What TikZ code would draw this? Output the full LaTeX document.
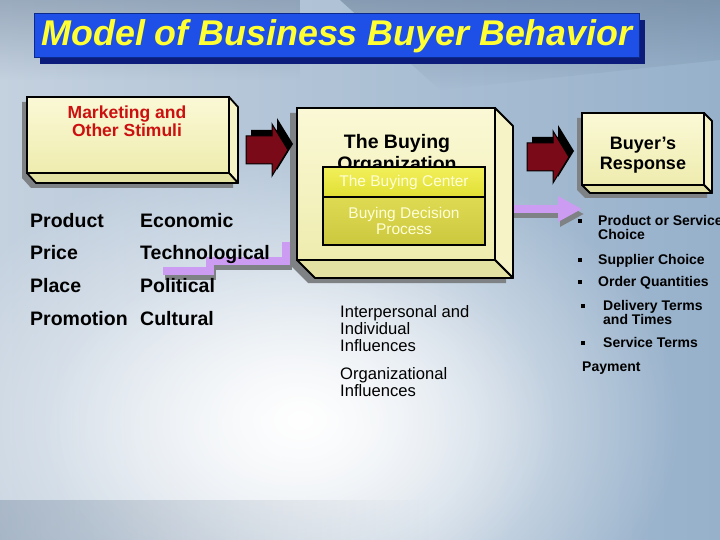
\documentclass[tikz,border=0pt]{standalone}
\usepackage{fontspec}
\setmainfont{Liberation Sans}
\usetikzlibrary{arrows.meta,backgrounds,shadows,fadings,calc}

\definecolor{titleblue}{HTML}{1E50E8}
\definecolor{titleedge}{HTML}{0A2A8C}
\definecolor{titleshade}{HTML}{0B1C7A}
\definecolor{titletext}{HTML}{FFFF33}
\definecolor{boxtop}{HTML}{FBF9D6}
\definecolor{boxbot}{HTML}{EEECAE}
\definecolor{boxright}{HTML}{F6F4C6}
\definecolor{boxunder}{HTML}{E4E2A2}
\definecolor{shadegray}{HTML}{7F8285}
\definecolor{stimred}{HTML}{CC1010}
\definecolor{arrowred}{HTML}{7A0A18}
\definecolor{bandlilac}{HTML}{CC9CF2}
\definecolor{centertop}{HTML}{F2F05A}
\definecolor{centerbot}{HTML}{E0DE34}
\definecolor{proctop}{HTML}{DEDA52}
\definecolor{procbot}{HTML}{CCC83E}
\definecolor{paletext}{HTML}{FFFFD8}
\definecolor{bgleft}{HTML}{C4D1DF}
\definecolor{bgmid}{HTML}{DDE5EE}
\definecolor{bgright}{HTML}{97B1CB}
\definecolor{bgstreak}{HTML}{687D95}

\tikzfading[name=softglow, inner color=transparent!0, outer color=transparent!100]

\tikzset{
  titlebox/.style={fill=titleblue, draw=titleedge, line width=1pt, minimum width=605pt,
    minimum height=44pt, inner sep=0pt, text=titletext,
    font=\fontsize{35.8}{40}\selectfont\bfseries\itshape,
    drop shadow={shadow xshift=5pt, shadow yshift=-6pt, fill=titleshade, opacity=1}},
  boxfront/.style={draw=black, line width=1.8pt, top color=boxtop, bottom color=boxbot,
    anchor=north west, inner sep=0pt, outer sep=0pt},
  boxside/.style={draw=black, line width=1.8pt, fill=boxright, line join=round},
  boxfloor/.style={draw=black, line width=1.8pt, fill=boxunder, line join=round},
  boxshadow/.style={fill=shadegray},
  headtext/.style={font=\fontsize{17.5}{18}\selectfont\bfseries, align=center, anchor=north, inner sep=0pt},
  centerbox/.style={draw=black, line width=1.5pt, top color=centertop, bottom color=centerbot,
    anchor=north west, minimum width=162pt, minimum height=30pt, inner sep=0pt, outer sep=0pt,
    text=paletext, font=\fontsize{15.5}{17}\selectfont},
  procbox/.style={draw=black, line width=1.5pt, top color=proctop, bottom color=procbot,
    anchor=north west, minimum width=162pt, minimum height=48pt, inner sep=0pt, outer sep=0pt,
    text=paletext, font=\fontsize{15.5}{16.5}\selectfont, align=center},
  stimtext/.style={font=\fontsize{19.5}{22}\selectfont\bfseries, anchor=base west, inner sep=0pt},
  inftext/.style={font=\fontsize{16.6}{17}\selectfont, align=left, anchor=north west, inner sep=0pt},
  resptext/.style={font=\fontsize{14}{14}\selectfont\bfseries, align=left, anchor=base west, inner sep=0pt},
  respdot/.style={fill=black, minimum size=3.2pt, inner sep=0pt},
  band/.style={draw=bandlilac, line width=8pt},
  bandshadow/.style={draw=shadegray, line width=8pt, transform canvas={xshift=2pt, yshift=-5pt}},
  fatarrow/.pic={
    \fill[black] (-16,-20) -- (10,-20) -- (10,-32) -- (26,-6) -- (10,20) -- (10,8) -- (-16,8) -- cycle;
    \draw[fill=arrowred, line width=1pt] (-21,-14) -- (5,-14) -- (5,-26) -- (21,0) -- (5,26) -- (5,14) -- (-21,14) -- cycle;
  }
}

\begin{document}
\begin{tikzpicture}[x=1pt, y=-1pt]
\useasboundingbox (0,0) rectangle (720,540);

% title
\node[titlebox] (title) at (337,36) {Model of Business Buyer Behavior};

% stimuli box
\node[boxfront, minimum width=202, minimum height=76] (mkt) at (27,97) {};
\draw[boxside] (mkt.north east) -- ++(9,10) -- ++(0,76) -- (mkt.south east) -- cycle;
\draw[boxfloor] (mkt.south west) -- (mkt.south east) -- ++(9,10) -- ++(-202,0) -- cycle;
\node[headtext, text=stimred] (mkttext) at (127,106) {Marketing and\\Other Stimuli};

% buying organization
\node[boxfront, minimum width=198, minimum height=152] (org) at (297,108) {};
\draw[boxside] (org.north east) -- ++(18,18) -- ++(0,152) -- (org.south east) -- cycle;
\draw[boxfloor] (org.south west) -- (org.south east) -- ++(18,18) -- ++(-198,0) -- cycle;
\node[headtext, font=\fontsize{19.5}{22}\selectfont\bfseries] (orgtext) at (397,134) {The Buying\\Organization};
\node[centerbox] (ctr) at (323,167) {The Buying Center};
\node[procbox] (proc) at (323,197) {Buying Decision\\Process};

% response box
\node[boxfront, minimum width=122, minimum height=72] (resp) at (582,113) {};
\draw[boxside] (resp.north east) -- ++(8,8) -- ++(0,72) -- (resp.south east) -- cycle;
\draw[boxfloor] (resp.south west) -- (resp.south east) -- ++(8,8) -- ++(-122,0) -- cycle;
\node[headtext, font=\fontsize{18}{20}\selectfont\bfseries] (resptext) at (643,137) {Buyer’s\\Response};

% block arrows
\pic at (267,150) {fatarrow};
\pic at (548,157) {fatarrow};

% stimuli
\node[stimtext] (prod) at (30,227) {Product};
\node[stimtext] (price) at (30,259) {Price};
\node[stimtext] (place) at (30,292) {Place};
\node[stimtext] (promo) at (30,325) {Promotion};
\node[stimtext] (econ) at (140,227) {Economic};
\node[stimtext] (tech) at (140,259) {Technological};
\node[stimtext] (polit) at (140,292) {Political};
\node[stimtext] (cult) at (140,325) {Cultural};

% influences
\node[inftext] (inter) at (340,305) {Interpersonal and\\Individual\\Influences};
\node[inftext] (orginf) at (340,367) {Organizational\\Influences};

% responses
\node[resptext, anchor=north west] (r1) at (598,215) {Product or Service\\Choice};
\node[resptext] (r2) at (598,264) {Supplier Choice};
\node[resptext] (r3) at (598,286) {Order Quantities};
\node[resptext, anchor=north west] (r4) at (603,300) {Delivery Terms\\and Times};
\node[resptext] (r5) at (603,347) {Service Terms};
\node[resptext] (r6) at (582,371) {Payment};
\foreach \bx/\by [count=\i] in {580/221, 580/260, 580/282, 583/306, 583/343}
  \node[respdot] (dot\i) at (\bx,\by) {};

\coordinate (bandA) at (163,271);
\coordinate (bandB) at (582,209);

\begin{scope}[on background layer]
  % backdrop
  \shade[left color=bgleft, middle color=bgmid, right color=bgright] (0,0) rectangle (720,540);
  \fill[white, path fading=softglow] (300,420) ellipse (380 and 280);
  \fill[white, opacity=.6, path fading=softglow] (300,430) ellipse (260 and 180);
  \fill[bgstreak, opacity=.45, path fading=south] (0,0) rectangle (300,80);
  \fill[bgstreak, opacity=.55, path fading=south] (340,0) -- (720,0) -- (720,60) -- (440,90) -- cycle;
  \fill[bgstreak, opacity=.35, path fading=east] (0,500) rectangle (430,540);
  % lilac bands
  \draw[bandshadow] (bandA) -- ++(47,0) -- ++(0,-10) -- ++(76,0) -- ++(0,-15) -- (org.west |- 0,246);
  \draw[band] (bandA) -- ++(47,0) -- ++(0,-10) -- ++(76,0) -- ++(0,-15) -- (org.west |- 0,246);
  \draw[bandshadow, -{Triangle[length=24pt, width=24pt]}] (org.east |- 0,209) -- (bandB);
  \draw[band, -{Triangle[length=24pt, width=24pt]}] (org.east |- 0,209) -- (bandB);
  % box shadows
  \fill[boxshadow] ([shift={(-5,5)}]mkt.north west) -- ([shift={(-5,5)}]mkt.north east)
    -- ([shift={(4,15)}]mkt.north east) -- ([shift={(4,15)}]mkt.south east)
    -- ([shift={(4,15)}]mkt.south west) -- ([shift={(-5,5)}]mkt.south west) -- cycle;
  \fill[boxshadow] ([shift={(-7,5)}]org.north west) -- ([shift={(-7,5)}]org.north east)
    -- ([shift={(11,23)}]org.north east) -- ([shift={(11,23)}]org.south east)
    -- ([shift={(11,23)}]org.south west) -- ([shift={(-7,5)}]org.south west) -- cycle;
  \fill[boxshadow] ([shift={(-5,5)}]resp.north west) -- ([shift={(-5,5)}]resp.north east)
    -- ([shift={(3,13)}]resp.north east) -- ([shift={(3,13)}]resp.south east)
    -- ([shift={(3,13)}]resp.south west) -- ([shift={(-5,5)}]resp.south west) -- cycle;
\end{scope}
\end{tikzpicture}
\end{document}
